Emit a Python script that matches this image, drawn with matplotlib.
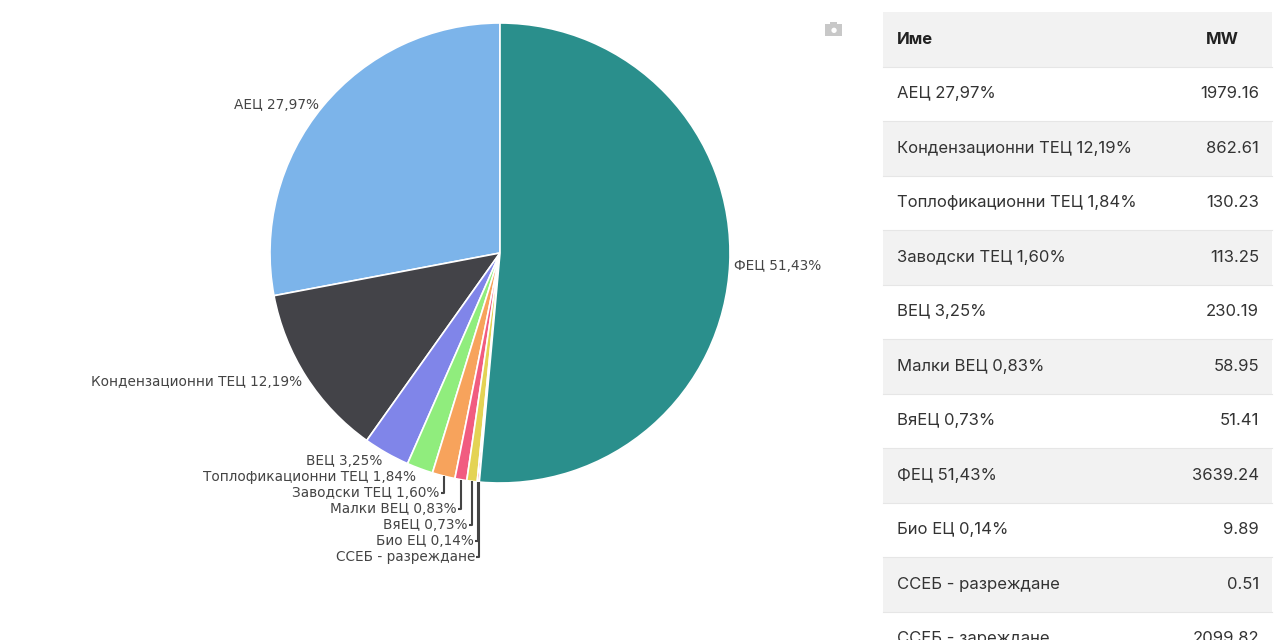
import numpy as np
import matplotlib
matplotlib.use("Agg")
import matplotlib.pyplot as plt
from matplotlib.patches import Rectangle, Circle

plt.rcParams['font.family'] = ['DejaVu Sans']

# pie data (drawn counter-clockwise from 12 o'clock)
pie_names = ['АЕЦ 27,97%', 'Кондензационни ТЕЦ 12,19%', 'ВЕЦ 3,25%', 'Топлофикационни ТЕЦ 1,84%',
             'Заводски ТЕЦ 1,60%', 'Малки ВЕЦ 0,83%', 'ВяЕЦ 0,73%', 'Био ЕЦ 0,14%',
             'ССЕБ - разреждане', 'ФЕЦ 51,43%']
pie_mw = [1979.16, 862.61, 230.19, 130.23, 113.25, 58.95, 51.41, 9.89, 0.51, 3639.24]
pie_colors = ['#7cb4ea', '#434348', '#8085e9', '#90ed7d', '#f7a35c', '#f15c80',
              '#e4d354', '#f45b5b', '#91e8e1', '#2a8f8c']

# table data
table_names = ['АЕЦ 27,97%', 'Кондензационни ТЕЦ 12,19%', 'Топлофикационни ТЕЦ 1,84%',
               'Заводски ТЕЦ 1,60%', 'ВЕЦ 3,25%', 'Малки ВЕЦ 0,83%', 'ВяЕЦ 0,73%',
               'ФЕЦ 51,43%', 'Био ЕЦ 0,14%', 'ССЕБ - разреждане', 'ССЕБ - зареждане']
table_mw = ['1979.16', '862.61', '130.23', '113.25', '230.19', '58.95', '51.41',
            '3639.24', '9.89', '0.51', '2099.82']

W, H = 1280, 640
fig = plt.figure(figsize=(12.8, 6.4), dpi=100)

# ---- pie ----
cx, cy, R = 500, 253, 230
ax = fig.add_axes([(cx - R) / W, (H - cy - R) / H, 2 * R / W, 2 * R / H])
ax.axis('off')
wedges, _ = ax.pie(pie_mw, colors=pie_colors, startangle=90, counterclock=True, radius=1,
                   wedgeprops=dict(edgecolor='white', linewidth=1.2))
ax.set_xlim(-1, 1)
ax.set_ylim(-1, 1)

lab_col = '#444444'
px = 1 / R  # one pixel in data units
prev_y = None
for i, (w, name) in enumerate(zip(wedges, pie_names)):
    mid = np.deg2rad((w.theta1 + w.theta2) / 2)
    ex, ey = np.cos(mid), np.sin(mid)
    lx, ly = 1.02 * ex, 1.02 * ey
    if i < 2 or i == len(wedges) - 1:
        ha = 'left' if ex > 0 else 'right'
        ax.text(lx, ly - 2 * px, name, ha=ha, va='center', fontsize=9.8, color=lab_col)
        continue
    # small slices at the bottom: stack labels downwards
    ty = ly - 4 * px
    if prev_y is not None and ty > prev_y - 13 * px:
        ty = prev_y - 16 * px
        ax.plot([ex, ex, ex - 3 * px], [ey, ty, ty], color=lab_col, lw=1.5,
                solid_capstyle='butt', clip_on=False)
        tx = ex - 4 * px
    else:
        tx = lx - 2 * px
    prev_y = ty
    ax.text(tx, ty, name, ha='right', va='center', fontsize=9.8, color=lab_col)

# camera icon (modebar)
def fy(y):
    return 1 - y / H

fig.patches.append(Rectangle((825 / W, fy(36)), 17 / W, 12 / H, transform=fig.transFigure,
                             facecolor='#c8c8c8', edgecolor='none'))
fig.patches.append(Rectangle((830 / W, fy(24) - 0.5 / H), 7 / W, 3 / H, transform=fig.transFigure,
                             facecolor='#c8c8c8', edgecolor='none'))
fig.text(833.5 / W, fy(30), '\u25cf', fontsize=5, color='white', ha='center', va='center')

# ---- table ----
tx0, tx1 = 883, 1272
row_h = 54.5
top = 12

def add_row(y0, shade):
    if shade:
        fig.patches.append(Rectangle((tx0 / W, fy(y0 + row_h)), (tx1 - tx0) / W, row_h / H,
                                     transform=fig.transFigure, facecolor='#f2f2f2',
                                     edgecolor='none'))
    fig.add_artist(plt.Line2D([tx0 / W, tx1 / W], [fy(y0 + row_h), fy(y0 + row_h)],
                              transform=fig.transFigure, color='#e6e6e6', lw=0.8))

add_row(top, True)
fig.text(897 / W, fy(top + row_h / 2), 'Име', family='Inter', fontweight='bold',
         fontsize=12, color='#222222', ha='left', va='center')
fig.text(1239 / W, fy(top + row_h / 2), 'MW', family='Inter', fontweight='bold',
         fontsize=12, color='#222222', ha='right', va='center')

for k, (nm, v) in enumerate(zip(table_names, table_mw)):
    y0 = top + row_h * (k + 1)
    add_row(y0, k % 2 == 1)
    yc = fy(y0 + row_h / 2)
    fig.text(897 / W, yc, nm, family='Inter', fontsize=12, color='#333333',
             ha='left', va='center')
    fig.text(1259 / W, yc, v, family='Inter', fontsize=12, color='#333333',
             ha='right', va='center')

fig.savefig('out.png', dpi=100)
